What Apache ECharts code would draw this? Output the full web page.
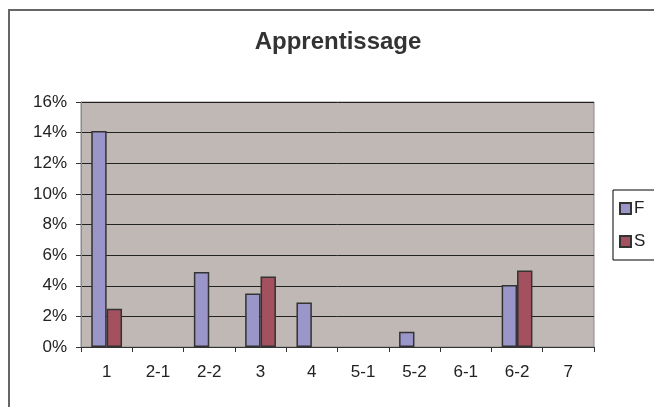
<!DOCTYPE html>
<html>
<head>
<meta charset="utf-8">
<script src="https://cdn.jsdelivr.net/npm/echarts@6/dist/echarts.min.js"></script>
<style>
  html, body { margin: 0; padding: 0; background: #fff; }
  #chart { width: 654px; height: 407px; }
</style>
</head>
<body>
<div id="chart"></div>
<script>
// Categories along the x axis
const categories = ['1', '2-1', '2-2', '3', '4', '5-1', '5-2', '6-1', '6-2', '7'];
// Share per category, in percent
const seriesF = [14.1, 0, 4.9, 3.5, 2.9, 0, 1.0, 0, 4.05, 0];
const seriesS = [2.5, 0, 0, 4.6, 0, 0, 0, 0, 5.0, 0];

// Empty categories draw no bar at all (no flat outline on the axis)
const asBars = arr => arr.map(v => (v === 0 ? '-' : v));

const font = 'Arial, "Liberation Sans", sans-serif';
const chart = echarts.init(document.getElementById('chart'), null, { renderer: 'canvas' });

chart.setOption({
  backgroundColor: '#ffffff',
  animation: false,
  title: {
    text: 'Apprentissage',
    left: 333,
    top: 25,
    textAlign: 'center',
    textStyle: { fontFamily: font, fontSize: 24, fontWeight: 'bold', color: '#333333' }
  },
  graphic: [{
    type: 'rect',
    shape: { x: 9, y: 10, width: 700, height: 500 },
    style: { fill: 'none', stroke: '#666666', lineWidth: 2 },
    silent: true
  }],
  legend: {
    orient: 'vertical',
    left: 613,
    top: 190,
    padding: [10, 40, 10, 6],
    itemGap: 16,
    itemWidth: 11,
    itemHeight: 11,
    icon: 'rect',
    borderColor: '#000000',
    borderWidth: 1,
    textStyle: { fontFamily: font, fontSize: 17, color: '#222222', padding: [0, 0, 0, -2] },
    data: ['F', 'S']
  },
  grid: {
    left: 81, right: 60, top: 102, bottom: 60,
    show: true,
    backgroundColor: '#c0b8b4',
    borderColor: '#8a8a8a',
    borderWidth: 1
  },
  xAxis: {
    type: 'category',
    data: categories,
    axisLine: { lineStyle: { color: '#333333', width: 1 } },
    axisTick: { show: true, length: 5, lineStyle: { color: '#333333' } },
    axisLabel: { fontFamily: font, fontSize: 17, color: '#222222', margin: 17 }
  },
  yAxis: {
    type: 'value',
    min: 0,
    max: 16,
    interval: 2,
    axisLine: { show: true, lineStyle: { color: '#8a8a8a' } },
    axisTick: { show: true, length: 5, lineStyle: { color: '#333333' } },
    axisLabel: { fontFamily: font, fontSize: 17, color: '#222222', margin: 14, formatter: '{value}%' },
    splitLine: { show: true, lineStyle: { color: '#222222', width: 1 } }
  },
  series: [
    {
      name: 'F',
      type: 'bar',
      data: asBars(seriesF),
      barGap: '0%',
      barCategoryGap: '40%',
      itemStyle: { color: '#9a96ca', borderColor: '#333333', borderWidth: 1.5 }
    },
    {
      name: 'S',
      type: 'bar',
      data: asBars(seriesS),
      itemStyle: { color: '#a3505f', borderColor: '#333333', borderWidth: 1.5 }
    }
  ]
});
</script>
</body>
</html>
